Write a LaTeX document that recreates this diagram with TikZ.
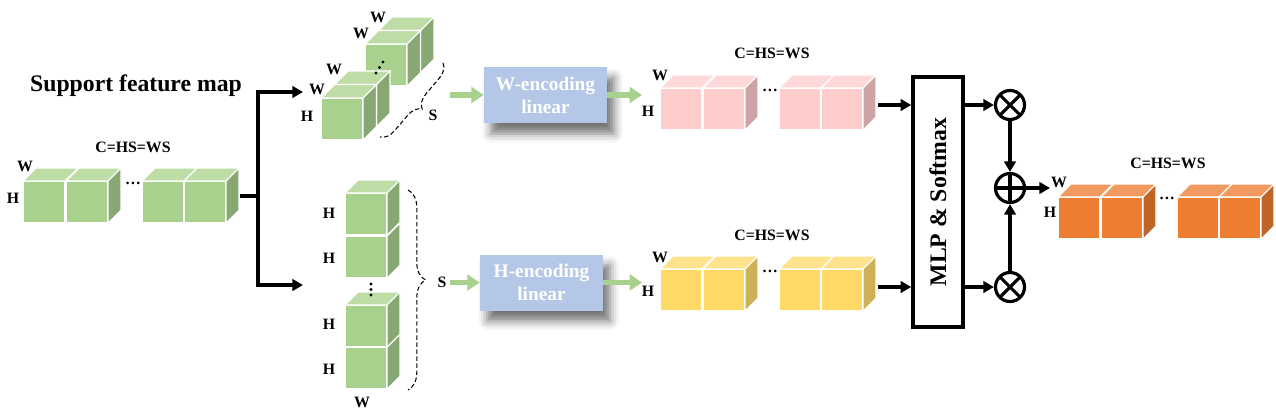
\documentclass[tikz,border=0pt]{standalone}
\usepackage{fontspec}
\setmainfont{Liberation Serif}
\usepackage{graphicx}
\usepackage{tikz}
\usetikzlibrary{arrows.meta,shadows.blur,decorations.pathreplacing}
\definecolor{gfront}{RGB}{169,209,142}
\definecolor{gtop}{RGB}{190,221,166}
\definecolor{gside}{RGB}{135,168,114}
\definecolor{pfront}{RGB}{255,204,204}
\definecolor{ptop}{RGB}{255,217,217}
\definecolor{pside}{RGB}{205,163,163}
\definecolor{yfront}{RGB}{255,217,102}
\definecolor{ytop}{RGB}{255,226,140}
\definecolor{yside}{RGB}{206,176,86}
\definecolor{ofront}{RGB}{237,125,49}
\definecolor{otop}{RGB}{241,153,94}
\definecolor{oside}{RGB}{192,101,40}
\definecolor{encblue}{RGB}{180,199,231}
\definecolor{arrgreen}{RGB}{169,209,142}

% cube: front top-left (#1,#2), colour prefix #3, depth #4
\newcommand{\fmcube}[4]{%
\filldraw[white,line width=0.6pt,fill=#3front] (#1,#2) rectangle ++(42,42);
\filldraw[white,line width=0.6pt,fill=#3top] (#1,#2) -- ++(#4,-#4) -- ++(42,0) -- ++(-#4,#4) -- cycle;
\filldraw[white,line width=0.6pt,fill=#3side] (#1+42,#2) -- ++(#4,-#4) -- ++(0,42) -- ++(-#4,#4) -- cycle;
}
% row of four cubes with a gap
\newcommand{\fmrow}[3]{%
\fmcube{#1}{#2}{#3}{13}
\fmcube{#1+43}{#2}{#3}{13}
\fmcube{#1+119}{#2}{#3}{13}
\fmcube{#1+161}{#2}{#3}{13}
}

\tikzset{
  lab/.style={font=\bfseries\fontsize{9}{9}\selectfont, inner sep=0pt},
  bigtxt/.style={font=\bfseries\fontsize{13.5}{15}\selectfont, inner sep=0pt},
  enc/.style={fill=encblue, text=white, align=center,
    font=\bfseries\fontsize{11}{13}\selectfont,
    minimum width=2.46cm, minimum height=1.12cm,
    blur shadow={shadow xshift=4pt, shadow yshift=-6pt, shadow blur radius=5pt, shadow opacity=55}},
  line/.style={line width=2pt},
  arr/.style={line width=2pt, -{Triangle[length=6pt,width=6.5pt]}},
  garr/.style={line width=3pt, arrgreen, -{Triangle[length=7pt,width=9pt]}},
  sbrace/.style={decorate, dash pattern=on 2.5pt off 1.5pt, line width=0.6pt},
  mulop/.style={circle, draw, line width=1.8pt, minimum size=16.5pt, inner sep=0pt,
    path picture={\draw[line width=1.8pt]
      (path picture bounding box.north west) -- (path picture bounding box.south east)
      (path picture bounding box.south west) -- (path picture bounding box.north east);}},
  addop/.style={circle, draw, line width=1.8pt, minimum size=16.5pt, inner sep=0pt,
    path picture={\draw[line width=1.8pt]
      (path picture bounding box.north) -- (path picture bounding box.south)
      (path picture bounding box.west) -- (path picture bounding box.east);}}
}

\begin{document}
\begin{tikzpicture}[x=0.02cm,y=-0.02cm]
\useasboundingbox (0,0) rectangle (1276,417);
%\draw[step=50,lightgray,very thin] (0,0) grid (1276,417);

% support feature map
\node[bigtxt] (title) at (136,86) {Support feature map};
\fmrow{23}{181}{g}
\node[lab] (c1) at (133,147) {C=HS=WS};
\node[lab] (w1) at (25,166) {W};
\node[lab] (h1) at (13,198) {H};
\node[lab] (d1) at (133,183) {\dots};

% W branch blocks
\fmcube{378.5}{30.5}{g}{13.5}
\fmcube{365}{44}{g}{13.5}
\fmcube{334.5}{84.5}{g}{13.5}
\fmcube{321}{98}{g}{13.5}
\fill (376,73) circle (0.9pt) (379.5,67.5) circle (0.9pt) (383,62) circle (0.9pt);
\node[lab] (w2) at (378,17) {W};
\node[lab] (w3) at (361,33) {W};
\node[lab] (w4) at (334,69) {W};
\node[lab] (w5) at (317,89) {W};
\node[lab] (h2) at (307,116) {H};
\coordinate (bw1) at (443,63);
\coordinate (bw2) at (380,137);
\draw[sbrace, decoration={brace, amplitude=8pt}] (bw1) -- (bw2);
\node[lab] (sw) at (433,115) {S};

% H branch blocks
\fmcube{345}{347}{g}{13}
\fmcube{345}{305}{g}{13}
\fmcube{345}{236}{g}{13}
\fmcube{345}{193}{g}{13}
\fill (371,284) circle (0.9pt) (371,289.5) circle (0.9pt) (371,295) circle (0.9pt);
\node[lab] (h3) at (329,213) {H};
\node[lab] (h4) at (329,258) {H};
\node[lab] (h5) at (329,324) {H};
\node[lab] (h6) at (329,369) {H};
\node[lab] (w6) at (362,402) {W};
\coordinate (bh1) at (408,190);
\coordinate (bh2) at (408,390);
\draw[sbrace, decoration={brace, amplitude=10pt, aspect=0.45}] (bh1) -- (bh2);
\node[lab] (sh) at (442,282) {S};

% encodings
\node[enc] (wenc) at (545.5,95) {W-encoding\\linear};
\node[enc] (henc) at (541.5,282.5) {H-encoding\\linear};

% W-encoded map
\fmrow{660}{88}{p}
\node[lab] (c2) at (772,53) {C=HS=WS};
\node[lab] (w7) at (660,75) {W};
\node[lab] (h7) at (648,111) {H};
\node[lab] (d2) at (770,90) {\dots};

% H-encoded map
\fmrow{660}{269}{y}
\node[lab] (c3) at (772,235) {C=HS=WS};
\node[lab] (w8) at (660,257) {W};
\node[lab] (h8) at (648,291) {H};
\node[lab] (d3) at (770,271) {\dots};

% fusion
\node[draw, line width=2pt, minimum width=1cm, minimum height=5cm, inner sep=0pt] (mlp) at (938,202)
  {\rotatebox{90}{\bfseries\fontsize{13.5}{15}\selectfont MLP \& Softmax}};
\node[mulop] (mulw) at (1010,105) {};
\node[mulop] (mulh) at (1010,287) {};
\node[addop] (addo) at (1010,188) {};

% output map
\fmrow{1058}{197}{o}
\node[lab] (c4) at (1168,163) {C=HS=WS};
\node[lab] (w9) at (1059,182) {W};
\node[lab] (h9) at (1050,212) {H};
\node[lab] (d4) at (1167,198) {\dots};

% connectors
\coordinate (m1out) at (240,196);
\coordinate (split) at (258,196);
\coordinate (wblk) at (303,92);
\coordinate (hblk) at (303,285);
\draw[line] (m1out) -- (split);
\draw[arr] (split) |- (wblk);
\draw[arr] (split) |- (hblk);

\coordinate (wsin) at (450,95);
\coordinate (hsin) at (450,282.5);
\coordinate (pin) at (642,95);
\coordinate (yin) at (642,282.5);
\draw[garr] (wsin) -- (wenc);
\draw[garr] (hsin) -- (henc);
\draw[garr] (wenc) -- (pin);
\draw[garr] (henc) -- (yin);

\coordinate (pout) at (878,105);
\coordinate (yout) at (878,287);
\draw[arr] (pout) -- (pout -| mlp.west);
\draw[arr] (yout) -- (yout -| mlp.west);
\draw[arr] (mulw -| mlp.east) -- (mulw);
\draw[arr] (mulh -| mlp.east) -- (mulh);
\draw[arr] (mulw) -- (addo);
\draw[arr] (mulh) -- (addo);
\coordinate (oin) at (1050,188);
\draw[arr] (addo) -- (oin);
\end{tikzpicture}
\end{document}
